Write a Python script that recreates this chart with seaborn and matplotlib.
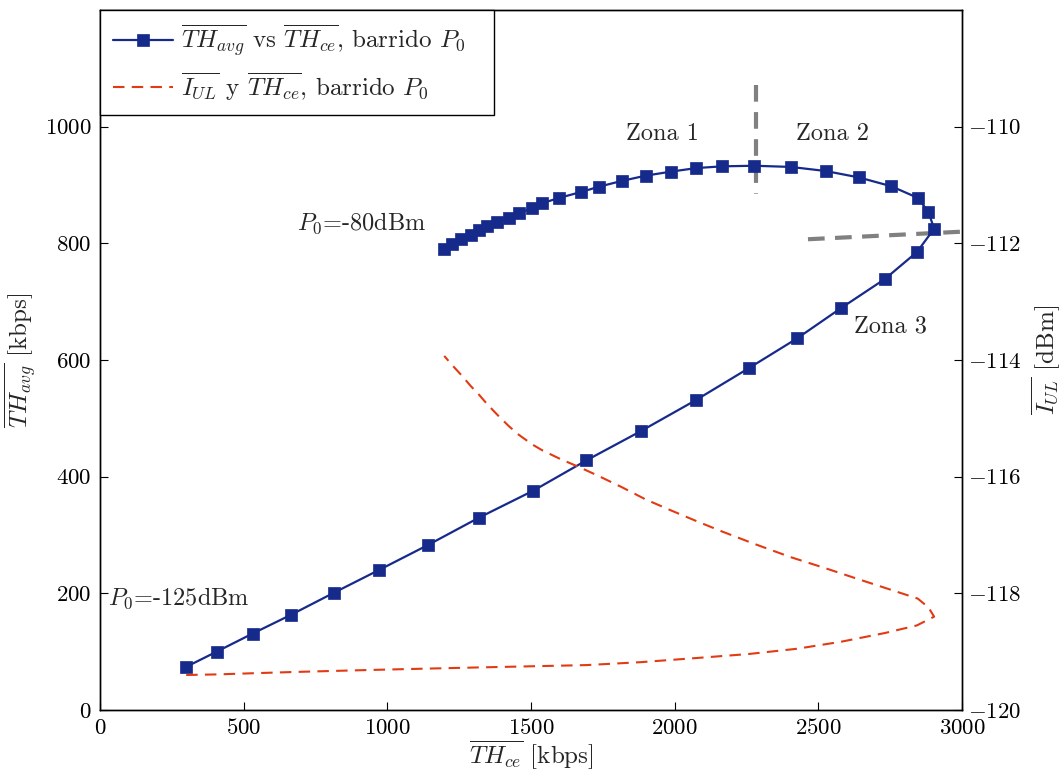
import numpy as np
import pandas as pd
import matplotlib
matplotlib.use("Agg")
import matplotlib.pyplot as plt
import seaborn as sns

# ---------------- data ----------------
# TH_ce [kbps] along the P0 sweep (-125 dBm -> -80 dBm)
th_ce = [300, 406, 531, 664, 814, 971, 1142, 1320, 1508, 1693, 1882, 2073,
         2258, 2426, 2579, 2732, 2843, 2903,
         2883, 2846, 2753, 2641, 2525, 2404, 2276, 2165, 2075, 1988, 1899,
         1816, 1736, 1674, 1599, 1540, 1505, 1457, 1422, 1383, 1348, 1320,
         1291, 1256, 1226, 1198]
# average throughput TH_avg [kbps]
th_avg = [74, 100, 131, 163, 201, 240, 283, 330, 376, 428, 478, 531,
          586, 637, 689, 739, 785, 825,
          854, 878, 898, 913, 924, 931, 933, 932, 929, 923, 916,
          907, 897, 888, 878, 869, 860, 852, 844, 836, 829, 822,
          815, 808, 799, 791]
# uplink interference I_UL [dBm]
i_ul = [-119.40, -119.39, -119.37, -119.35, -119.33, -119.31, -119.29,
        -119.27, -119.25, -119.23, -119.18, -119.11, -119.04, -118.95,
        -118.83, -118.68, -118.55, -118.40,
        -118.24, -118.09, -117.94, -117.76, -117.57, -117.38, -117.15,
        -116.94, -116.76, -116.58, -116.39, -116.18, -115.99, -115.85,
        -115.69, -115.55, -115.45, -115.28, -115.13, -114.94, -114.76,
        -114.60, -114.45, -114.25, -114.09, -113.93]

# zone separators (gray dashed)
sep1_x = [2282, 2282]
sep1_y = [1072, 885]
sep2_x = [2464, 3000]
sep2_y = [807, 820]

x_ticks = [0, 500, 1000, 1500, 2000, 2500, 3000]
y_ticks = [0, 200, 400, 600, 800, 1000]
y2_ticks = [-120, -118, -116, -114, -112, -110]

lbl_blue = r"$\overline{TH_{avg}}$ vs $\overline{TH_{ce}}$, barrido $P_0$"
lbl_red = r"$\overline{I_{UL}}$ y $\overline{TH_{ce}}$, barrido $P_0$"

df = pd.DataFrame({"th_ce": th_ce, "th_avg": th_avg, "i_ul": i_ul,
                   "order": np.arange(len(th_ce))})

# ---------------- style ----------------
sns.set_style("white")
plt.rcParams["font.family"] = ["cmr10", "DejaVu Serif"]
plt.rcParams["mathtext.fontset"] = "cm"
plt.rcParams["axes.formatter.use_mathtext"] = True
plt.rcParams["axes.unicode_minus"] = True

blue = "#162a8c"
red = "#e23a12"
gray = "#808080"
fs_tick = 16.5
fs_lab = 18
fs_txt = 17.5
fs_leg = 18

fig = plt.figure(figsize=(10.64, 7.76), dpi=100)
ax = fig.add_axes([100 / 1064, 66 / 776, 862 / 1064, 700 / 776])
ax2 = ax.twinx()

sns.lineplot(data=df, x="th_ce", y="th_avg", sort=False, estimator=None,
             ax=ax, color=blue, lw=1.6, marker="s", markersize=8.5,
             markeredgecolor=blue, markeredgewidth=0.5, label=lbl_blue,
             legend=False)
sns.lineplot(data=df, x="th_ce", y="i_ul", sort=False, estimator=None,
             ax=ax2, color=red, lw=1.5, dashes=False, label=lbl_red,
             legend=False)
ax2.lines[0].set_dashes((5.5, 3.5))

ax.plot(sep1_x, sep1_y, color=gray, lw=3, dashes=(4, 2.5), zorder=1)
ax.plot(sep2_x, sep2_y, color=gray, lw=3, dashes=(4, 2.5), zorder=1,
        clip_on=False)

ax.set_xlim(0, 3000)
ax.set_ylim(0, 1200)
ax2.set_ylim(-120, -108)
ax.set_xticks(x_ticks)
ax.set_yticks(y_ticks)
ax2.set_yticks(y2_ticks)

for a in (ax, ax2):
    for s in a.spines.values():
        s.set_color("black")
        s.set_linewidth(1.0)
ax.tick_params(axis="both", direction="in", length=6, width=0.8,
               labelsize=fs_tick, colors="black", bottom=True, left=True,
               top=False, right=False, pad=6)
ax2.tick_params(axis="y", direction="in", length=6, width=0.8,
                labelsize=fs_tick, colors="black", right=True, left=False,
                pad=4)

ax.set_xlabel(r"$\overline{TH_{ce}}$ [kbps]", fontsize=fs_lab, labelpad=0)
ax.set_ylabel(r"$\overline{TH_{avg}}$ [kbps]", fontsize=fs_lab, labelpad=4)
ax2.set_ylabel(r"$\overline{I_{UL}}$ [dBm]", fontsize=fs_lab, labelpad=6,
               rotation=90)

ax.text(1958, 988, "Zona 1", ha="center", va="center", fontsize=fs_txt)
ax.text(2551, 988, "Zona 2", ha="center", va="center", fontsize=fs_txt)
ax.text(2750, 658, "Zona 3", ha="center", va="center", fontsize=fs_txt)
ax.text(1135, 835, r"$P_0$=-80dBm", ha="right", va="center", fontsize=fs_txt)
ax.text(29, 192, r"$P_0$=-125dBm", ha="left", va="center", fontsize=fs_txt)

h1 = ax.lines[0]
h2 = ax2.lines[0]
leg = ax2.legend([h1, h2], [lbl_blue, lbl_red],
                 loc="upper left", bbox_to_anchor=(0, 0, 0.457, 1),
                 mode="expand", fontsize=fs_leg, frameon=True,
                 fancybox=False, edgecolor="black", framealpha=1,
                 borderaxespad=0, handlelength=2.4, handletextpad=0.35,
                 labelspacing=0.45, borderpad=0.5)
leg.get_frame().set_linewidth(1.0)

fig.savefig("out.png", dpi=100)
